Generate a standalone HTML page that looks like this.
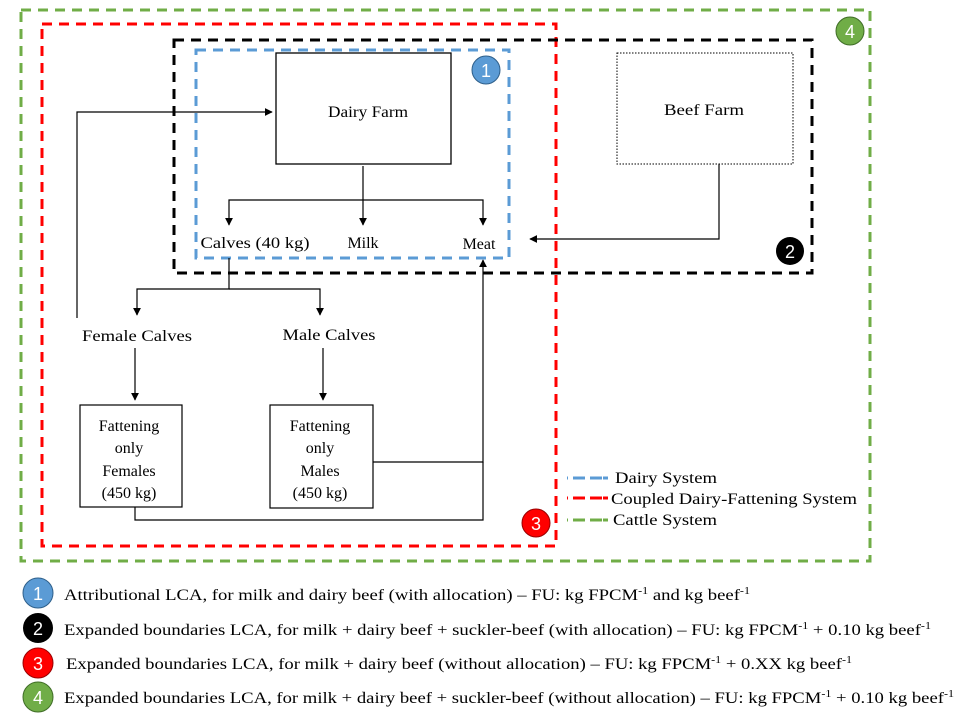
<!DOCTYPE html>
<html><head><meta charset="utf-8"><style>
html,body{margin:0;padding:0;background:#fff;}
svg{display:block;font-family:"Liberation Serif",serif;}
.t{font-size:16px;fill:#000;}
.l{font-size:15.5px;fill:#000;}
.n{font-family:"Liberation Sans",sans-serif;font-size:18px;fill:#fff;}
</style></head><body>
<svg width="965" height="720" viewBox="0 0 965 720" xmlns="http://www.w3.org/2000/svg">
<defs>
<marker id="a" viewBox="0 0 10 10" refX="9" refY="5" markerWidth="8" markerHeight="8" orient="auto-start-reverse" markerUnits="userSpaceOnUse"><path d="M0,0 L10,5 L0,10 z" fill="#000"/></marker>
</defs>
<rect x="21" y="10" width="849" height="551" fill="none" stroke="#70ad47" stroke-width="3" stroke-dasharray="10,7"/>
<rect x="42" y="24" width="514" height="522" fill="none" stroke="#f00" stroke-width="3" stroke-dasharray="10,7"/>
<rect x="174" y="40" width="638" height="233" fill="none" stroke="#000" stroke-width="3" stroke-dasharray="10,7"/>
<rect x="196" y="50" width="313" height="208" fill="none" stroke="#5b9bd5" stroke-width="3" stroke-dasharray="10,7"/>
<rect x="276" y="53" width="175" height="111" fill="#fff" stroke="#000" stroke-width="1.3"/>
<text class="t" x="368" y="117" text-anchor="middle" textLength="80" lengthAdjust="spacingAndGlyphs">Dairy Farm</text>
<rect x="617" y="53" width="176" height="111" fill="#fff" stroke="#000" stroke-width="1" stroke-dasharray="1.5,1.5"/>
<text class="t" x="704" y="115" text-anchor="middle" textLength="80" lengthAdjust="spacingAndGlyphs">Beef Farm</text>
<g stroke="#000" stroke-width="1.2" fill="none">
<line x1="363" y1="166" x2="363" y2="225" marker-end="url(#a)"/>
<polyline points="229,225 229,200 483,200 483,225" marker-start="url(#a)" marker-end="url(#a)"/>
<polyline points="719,164 719,239 530,239" marker-end="url(#a)"/>
<polyline points="229,258 229,289 137,289 137,315" marker-end="url(#a)"/>
<polyline points="229,289 320,289 320,315" marker-end="url(#a)"/>
<polyline points="77,318 77,112 272,112" marker-end="url(#a)"/>
<line x1="135" y1="348" x2="135" y2="400" marker-end="url(#a)"/>
<line x1="323" y1="348" x2="323" y2="400" marker-end="url(#a)"/>
<polyline points="373,462 483,462 483,260" marker-end="url(#a)"/>
<polyline points="135,507 135,520 483,520 483,462"/>
</g>
<text class="t" x="255" y="248" text-anchor="middle" textLength="109" lengthAdjust="spacingAndGlyphs">Calves (40 kg)</text>
<text class="t" x="363" y="248" text-anchor="middle">Milk</text>
<text class="t" x="479" y="249" text-anchor="middle">Meat</text>
<text class="t" x="137" y="341" text-anchor="middle" textLength="110" lengthAdjust="spacingAndGlyphs">Female Calves</text>
<text class="t" x="329" y="340" text-anchor="middle" textLength="93" lengthAdjust="spacingAndGlyphs">Male Calves</text>
<rect x="80" y="405" width="102" height="102" fill="#fff" stroke="#000" stroke-width="1.2"/>
<rect x="270" y="405" width="103" height="103" fill="#fff" stroke="#000" stroke-width="1.2"/>
<g class="t" text-anchor="middle">
<text x="129" y="431">Fattening</text><text x="129" y="453">only</text><text x="129" y="476">Females</text><text x="129" y="498">(450 kg)</text>
<text x="320" y="431">Fattening</text><text x="320" y="453">only</text><text x="320" y="476">Males</text><text x="320" y="498">(450 kg)</text>
</g>
<circle cx="486" cy="70" r="14" fill="#5b9bd5" stroke="#2e5f8a" stroke-width="1"/><text class="n" x="486" y="77" text-anchor="middle">1</text>
<circle cx="790" cy="251" r="14" fill="#000"/><text class="n" x="790" y="258" text-anchor="middle">2</text>
<circle cx="536" cy="523" r="14" fill="#f00" stroke="#900" stroke-width="1"/><text class="n" x="536" y="530" text-anchor="middle">3</text>
<circle cx="850" cy="31" r="14" fill="#70ad47" stroke="#3f6d26" stroke-width="1"/><text class="n" x="850" y="38" text-anchor="middle">4</text>
<g stroke-width="3" stroke-dasharray="1,5,12,5,12">
<line x1="567" y1="478" x2="611" y2="478" stroke="#5b9bd5"/>
<line x1="567" y1="498" x2="611" y2="498" stroke="#f00"/>
<line x1="567" y1="520" x2="611" y2="520" stroke="#70ad47"/>
</g>
<text class="t" x="615" y="483" textLength="102" lengthAdjust="spacingAndGlyphs">Dairy System</text>
<text class="t" x="611" y="504" textLength="246" lengthAdjust="spacingAndGlyphs">Coupled Dairy-Fattening System</text>
<text class="t" x="613" y="525" textLength="104" lengthAdjust="spacingAndGlyphs">Cattle System</text>
<circle cx="38" cy="593" r="15" fill="#5b9bd5" stroke="#2e5f8a"/><text class="n" x="38" y="600" text-anchor="middle">1</text>
<circle cx="38" cy="628" r="15" fill="#000"/><text class="n" x="38" y="635" text-anchor="middle">2</text>
<circle cx="38" cy="663" r="15" fill="#f00" stroke="#900"/><text class="n" x="38" y="670" text-anchor="middle">3</text>
<circle cx="38" cy="697" r="15" fill="#70ad47" stroke="#3f6d26"/><text class="n" x="38" y="704" text-anchor="middle">4</text>
<text class="l" x="64" y="600" textLength="686" lengthAdjust="spacingAndGlyphs">Attributional LCA, for milk and dairy beef (with allocation) – FU: kg FPCM<tspan dy="-6" font-size="10">-1</tspan><tspan dy="6"> and kg beef</tspan><tspan dy="-6" font-size="10">-1</tspan></text>
<text class="l" x="64" y="635" textLength="867" lengthAdjust="spacingAndGlyphs">Expanded boundaries LCA, for milk + dairy beef + suckler-beef (with allocation) – FU: kg FPCM<tspan dy="-6" font-size="10">-1</tspan><tspan dy="6"> + 0.10 kg beef</tspan><tspan dy="-6" font-size="10">-1</tspan></text>
<text class="l" x="66" y="669" textLength="786" lengthAdjust="spacingAndGlyphs">Expanded boundaries LCA, for milk + dairy beef (without allocation) – FU: kg FPCM<tspan dy="-6" font-size="10">-1</tspan><tspan dy="6"> + 0.XX kg beef</tspan><tspan dy="-6" font-size="10">-1</tspan></text>
<text class="l" x="64" y="703" textLength="890" lengthAdjust="spacingAndGlyphs">Expanded boundaries LCA, for milk + dairy beef + suckler-beef (without allocation) – FU: kg FPCM<tspan dy="-6" font-size="10">-1</tspan><tspan dy="6"> + 0.10 kg beef</tspan><tspan dy="-6" font-size="10">-1</tspan></text>
</svg>
</body></html>
